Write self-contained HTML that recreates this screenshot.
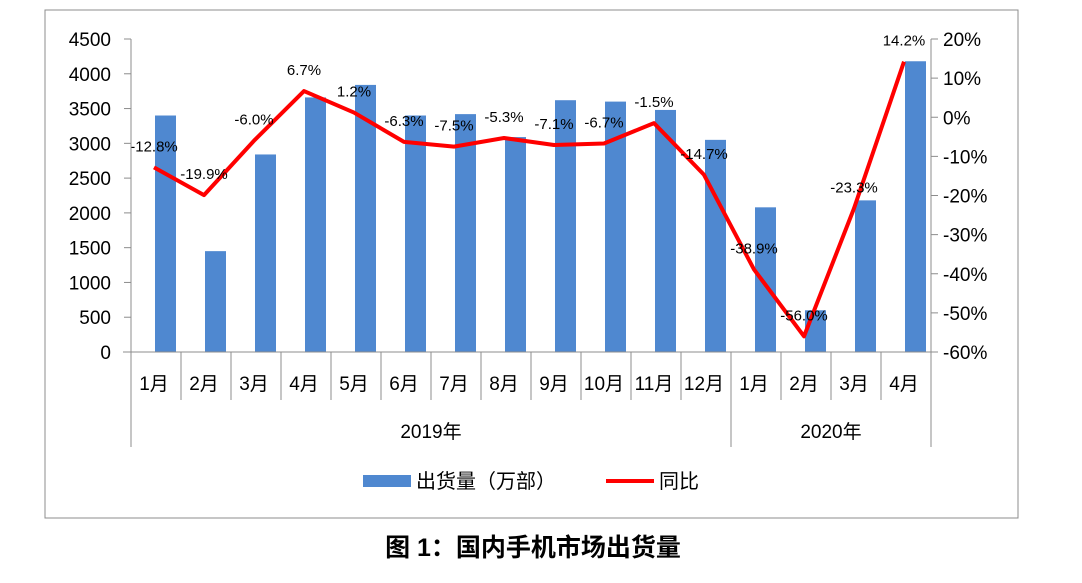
<!DOCTYPE html>
<html><head><meta charset="utf-8"><style>
body{margin:0;background:#fff;}
svg text{font-family:"Liberation Sans","Noto Sans CJK SC",sans-serif;}
</style></head><body>
<svg width="1082" height="578" viewBox="0 0 1082 578">
<rect x="45" y="10" width="973" height="508" fill="#fff" stroke="#8c8c8c" stroke-width="1"/>
<g id="grid"></g><g id="bars"></g><g id="line"></g><g id="labels"></g><g id="axes"></g>
<g>
<rect x="363" y="475" width="48" height="12" fill="#4f88d0"/>
<text x="416" y="488" font-size="20">出货量（万部）</text>
<line x1="606" y1="481" x2="654" y2="481" stroke="#f00" stroke-width="4"/>
<text x="659" y="488" font-size="20">同比</text>
</g>
<text x="533" y="556" font-size="25" font-weight="bold" text-anchor="middle">图 1：国内手机市场出货量</text>
</svg>
<script>
const categories=["1月","2月","3月","4月","5月","6月","7月","8月","9月","10月","11月","12月","1月","2月","3月","4月"];
const shipments=[3400,1450,2840,3660,3840,3400,3420,3090,3620,3600,3480,3050,2080,600,2180,4180];
const yoy=[-12.8,-19.9,-6.0,6.7,1.2,-6.3,-7.5,-5.3,-7.1,-6.7,-1.5,-14.7,-38.9,-56.0,-23.3,14.2];
const leftTicks=[0,500,1000,1500,2000,2500,3000,3500,4000,4500];
const rightTicks=[-60,-50,-40,-30,-20,-10,0,10,20];
const years=[{label:"2019年",start:0,end:12},{label:"2020年",start:12,end:16}];
const NS="http://www.w3.org/2000/svg";
const x0=131,x1=931,yTop=39,yBot=352,bw=(x1-x0)/categories.length;
const yL=v=>yBot-(v/4500)*(yBot-yTop);
const yR=v=>yBot-((v+60)/80)*(yBot-yTop);
const xc=i=>x0+bw*(i+0.5);
function mk(tag,attrs,parent,txt){const e=document.createElementNS(NS,tag);for(const k in attrs)e.setAttribute(k,attrs[k]);if(txt!==undefined)e.textContent=txt;document.getElementById(parent).appendChild(e);return e;}
shipments.forEach((v,i)=>{const r=mk('rect',{x:xc(i)-1,y:yL(v),width:21,height:yBot-yL(v),fill:'#4f88d0'},'bars');

});
const pts=yoy.map((v,i)=>(xc(i)-2)+','+yR(v)).join(' ');
const pl=mk('polyline',{points:pts,fill:'none',stroke:'#f00','stroke-width':4,'stroke-linejoin':'round'},'line');


yoy.forEach((v,i)=>{const t=mk('text',{x:xc(i)-2,y:yR(v)-16,'font-size':15,'text-anchor':'middle'},'labels',v.toFixed(1)+'%');

});
mk('line',{x1:x0,y1:yTop,x2:x0,y2:yBot,stroke:'#8c8c8c'},'axes');
mk('line',{x1:x1,y1:yTop,x2:x1,y2:yBot,stroke:'#8c8c8c'},'axes');
mk('line',{x1:x0-8,y1:yBot,x2:x1,y2:yBot,stroke:'#8c8c8c'},'axes');
leftTicks.forEach(v=>{mk('line',{x1:x0-7,y1:yL(v),x2:x0,y2:yL(v),stroke:'#8c8c8c'},'axes');
const t=mk('text',{x:x0-20,y:yL(v)+7,'font-size':19,'text-anchor':'end'},'axes',v);

});
rightTicks.forEach(v=>{mk('line',{x1:x1,y1:yR(v),x2:x1+7,y2:yR(v),stroke:'#8c8c8c'},'axes');
const t=mk('text',{x:x1+12,y:yR(v)+7,'font-size':19},'axes',v+'%');

});
for(let i=0;i<=categories.length;i++){const long=years.some(y=>y.start===i||y.end===i);
mk('line',{x1:x0+bw*i,y1:yBot,x2:x0+bw*i,y2:long?447:400,stroke:'#8c8c8c'},'axes');}
categories.forEach((c,i)=>{const t=mk('text',{x:xc(i)-2,y:390,'font-size':19,'text-anchor':'middle'},'axes',c);

});
years.forEach(y=>{const t=mk('text',{x:x0+bw*(y.start+y.end)/2,y:438,'font-size':19,'text-anchor':'middle'},'axes',y.label);

});
</script>
</body></html>
